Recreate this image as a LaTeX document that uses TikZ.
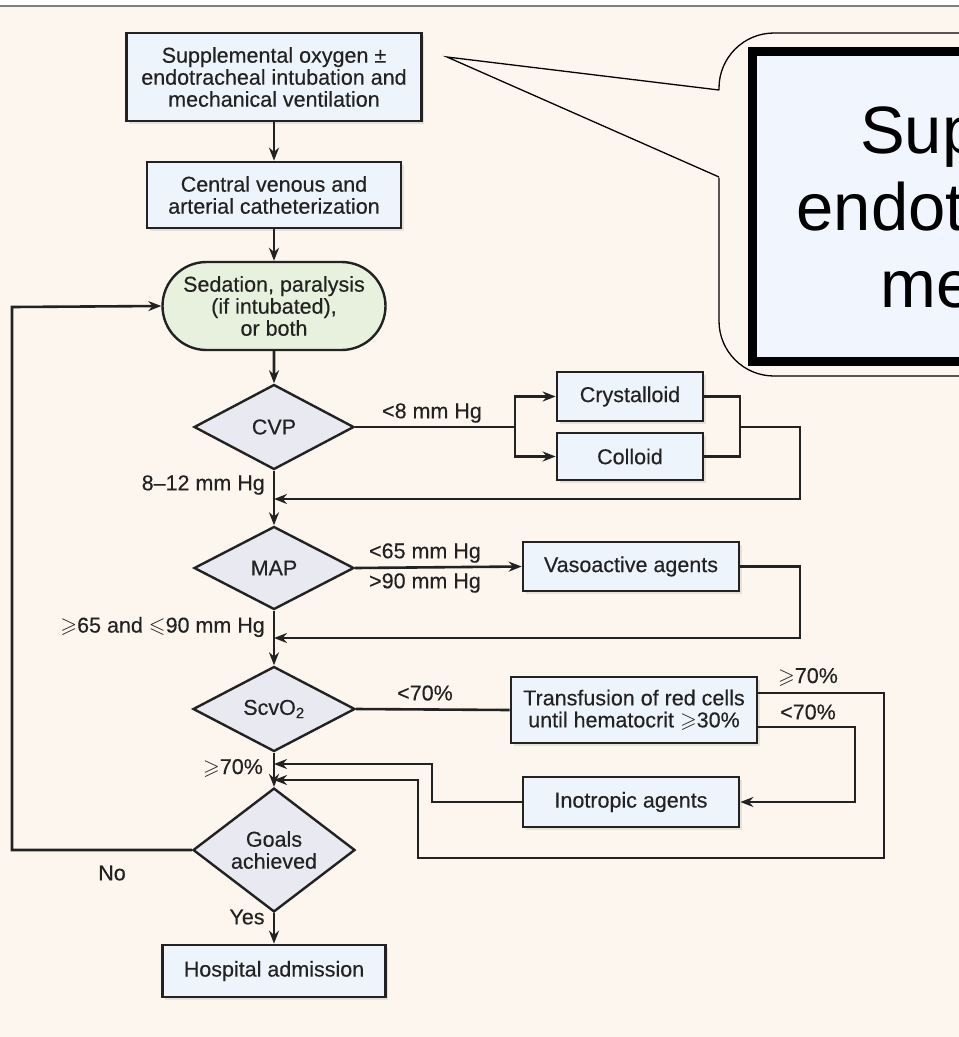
\documentclass[tikz,border=0pt]{standalone}
\usepackage{fontspec}
\usepackage{amssymb}
\setmainfont{Liberation Sans}
\newfontfamily\flowfont[FakeBold=0.3]{Liberation Sans}
\usetikzlibrary{shapes.geometric,shapes.misc,arrows.meta,shadows}
\definecolor{cream}{HTML}{FDF6EF}
\definecolor{boxfill}{HTML}{EEF4FB}
\definecolor{dfill}{HTML}{E9E9F1}
\definecolor{sedfill}{HTML}{E8F1DD}
\definecolor{calfill}{HTML}{F1F6FE}
\definecolor{ink}{HTML}{222222}
\tikzset{
  fc/.style={font=\flowfont\fontsize{21.5}{22}\selectfont, text=ink, align=center, inner sep=0pt},
  boxnode/.style={fc, draw=ink, line width=2.7pt, fill=boxfill, rectangle,
    drop shadow={shadow xshift=2.5pt, shadow yshift=-2.5pt, opacity=0.18}},
  dnode/.style={fc, draw=ink, line width=2.4pt, fill=dfill, diamond},
  sednode/.style={fc, draw=ink, line width=2.4pt, fill=sedfill, rounded rectangle},
  lab/.style={font=\flowfont\fontsize{21.5}{21.5}\selectfont, text=ink, inner sep=0pt},
  conn/.style={draw=ink, line width=2.6pt},
  arr/.style={conn, -{Stealth[length=13pt, width=10pt]}},
}
\begin{document}
\begin{tikzpicture}[x=1pt, y=-1pt]
\useasboundingbox (0,0) rectangle (959,1037);
\clip (0,0) rectangle (959,1037);
\fill[cream] (0,0) rectangle (959,1037);
\fill[white] (0,0) rectangle (959,5);
\draw[gray, line width=2pt] (0,6) -- (959,6);

% callout
\draw[line width=1.3pt, fill=cream, rounded corners=55pt] (719,33) rectangle (1200,376);
\fill[cream] (447,57) -- (720.5,90.4) -- (720.5,178.1) -- cycle;
\coordinate (tip) at (447,57);
\coordinate (pa) at (719,90);
\coordinate (pb) at (719,177);
\draw[line width=1.3pt] (pa) -- (tip) -- (pb);
\draw[line width=9pt, fill=calfill] (752.5,51.5) rectangle (1700,361.5);
\node[font=\fontsize{67}{77}\selectfont, anchor=base, inner sep=0pt] (c1) at (1210,153) {Supplemental oxygen \char"00B1};
\node[font=\fontsize{67}{77}\selectfont, anchor=base, inner sep=0pt] (c2) at (1210,230) {endotracheal intubation and};
\node[font=\fontsize{67}{77}\selectfont, anchor=base, inner sep=0pt] (c3) at (1210,307) {mechanical ventilation};

% flowchart nodes
\node[boxnode, minimum width=295pt, minimum height=88pt] (b1) at (274,77)
  {Supplemental oxygen \char"00B1\\endotracheal intubation and\\mechanical ventilation};
\node[boxnode, minimum width=254pt, minimum height=66pt] (b2) at (274,195)
  {Central venous and\\arterial catheterization};
\node[sednode, minimum width=223pt, minimum height=88pt] (sed) at (274,306)
  {Sedation, paralysis\\(if intubated),\\or both};
\node[dnode, minimum width=160pt, minimum height=85pt] (cvp) at (274,427) {CVP};
\node[boxnode, minimum width=146pt, minimum height=49pt] (cry) at (630,396.5) {Crystalloid};
\node[boxnode, minimum width=146pt, minimum height=47pt] (col) at (630,456.5) {Colloid};
\node[dnode, minimum width=160pt, minimum height=83pt] (map) at (274,568) {MAP};
\node[boxnode, minimum width=216pt, minimum height=49pt] (vas) at (631,566.5) {Vasoactive agents};
\node[dnode, minimum width=162pt, minimum height=85pt] (scv) at (274,709) {ScvO\textsubscript{2}};
\node[boxnode, minimum width=246pt, minimum height=66pt] (tra) at (634,710)
  {Transfusion of red cells\\until hematocrit $\geqslant$30\%};
\node[boxnode, minimum width=216pt, minimum height=50pt] (ino) at (631,802) {Inotropic agents};
\node[dnode, minimum width=162pt, minimum height=84pt] (goa) at (274,850) {Goals\\achieved};
\node[boxnode, minimum width=223pt, minimum height=52pt] (hos) at (274,971) {Hospital admission};

% coordinates
\coordinate (spl) at (515,427);
\coordinate (j1) at (740,427);
\coordinate (r1) at (800,427);
\coordinate (m1) at (274,499);
\coordinate (m2) at (274,638);
\coordinate (ta) at (757,693);
\coordinate (tb) at (757,727);
\coordinate (m3) at (274,764);
\coordinate (m4) at (274,780);

% connectors
\draw[arr] (b1) -- (b2);
\draw[arr] (b2) -- (sed);
\draw[arr] (sed) -- (cvp);
\draw[conn] (cvp.east) -- (spl);
\draw[arr] (spl) |- (cry.west);
\draw[arr] (spl) |- (col.west);
\draw[conn] (cry.east) -| (j1) |- (col.east);
\draw[arr] (j1) -- (r1) |- (m1);
\draw[arr] (cvp) -- (map);
\draw[arr] (map.east) -- (vas.west);
\draw[arr] (vas.east) -| (800,638) -- (m2);
\draw[arr] (map) -- (scv);
\draw[conn] (scv.east) -- (tra.west);
\draw[arr] (ta) -| (884,858) -| (418,780) -- (m4);
\draw[arr] (tb) -| (855,802) -- (ino.east);
\draw[arr] (ino.west) -| (432,764) -- (m3);
\draw[arr] (scv) -- (goa);
\draw[arr] (goa.west) -| (12,307) -- (sed.west);
\draw[arr] (goa) -- (hos);

% labels
\node[lab] (l1) at (432,413) {<8 mm Hg};
\node[lab, anchor=east] (l2) at (265,485) {8\textendash12 mm Hg};
\node[lab] (l3) at (425,553) {<65 mm Hg};
\node[lab] (l4) at (425,583) {>90 mm Hg};
\node[lab, anchor=east] (l5) at (265,627) {$\geqslant$65 and $\leqslant$90 mm Hg};
\node[lab] (l6) at (425,693) {<70\%};
\node[lab] (l7) at (808,677) {$\geqslant$70\%};
\node[lab] (l8) at (808,712) {<70\%};
\node[lab] (l9) at (233,768) {$\geqslant$70\%};
\node[lab] (l10) at (112,873) {No};
\node[lab] (l11) at (247,917) {Yes};
\end{tikzpicture}
\end{document}
